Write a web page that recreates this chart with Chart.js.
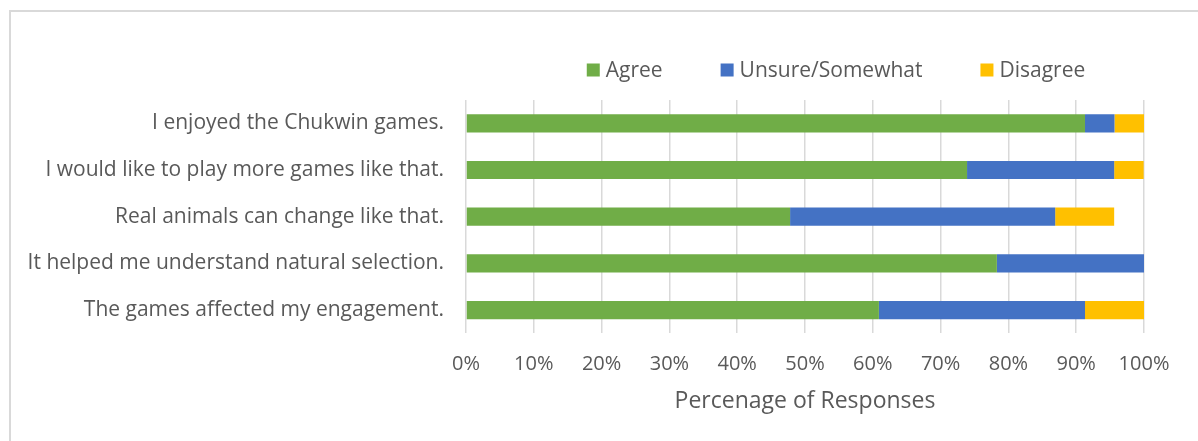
<!DOCTYPE html>
<html>
<head>
<meta charset="utf-8">
<script src="https://cdn.jsdelivr.net/npm/chart.js@4"></script>
<style>
  html, body { margin: 0; padding: 0; background: #fff; }
  #wrap { position: relative; width: 1198px; height: 441px; }
  #frame { position: absolute; left: 9px; top: 10px; right: -5px; bottom: -5px; border: 2px solid #d9d9d9; }
  canvas { position: absolute; left: 0; top: 0; }
</style>
</head>
<body>
<div id="wrap">
  <div id="frame"></div>
  <canvas id="chart" width="1198" height="441"></canvas>
</div>
<script>
// statements on the y axis
const statements = [
  'I enjoyed the Chukwin games.',
  'I would like to play more games like that.',
  'Real animals can change like that.',
  'It helped me understand natural selection.',
  'The games affected my engagement.'
];

// percent of responses per statement
const agree = [91.3, 73.9, 47.8, 78.3, 60.9];
const unsure = [4.35, 21.7, 39.1, 21.7, 30.4];
const disagree = [4.35, 4.35, 8.7, 0, 8.7];

const seriesNames = ['Agree', 'Unsure/Somewhat', 'Disagree'];
const seriesColors = ['#70AD47', '#4472C4', '#FFC000'];

const textColor = '#595959';
const fontFamily = '"Open Sans", sans-serif';

// legend drawn by hand: the built-in one ties item gap to row height
const topLegend = {
  id: 'topLegend',
  afterDraw(chart) {
    const c = chart.ctx;
    const box = 13, gap = 6, itemGap = 58, cy = 70, center = 836;
    c.save();
    c.font = '21px ' + fontFamily;
    c.textBaseline = 'middle';
    const sets = chart.data.datasets;
    const widths = sets.map(d => box + gap + c.measureText(d.label).width);
    const total = widths.reduce((a, b) => a + b, 0) + itemGap * (sets.length - 1);
    let x = center - total / 2;
    sets.forEach((d, i) => {
      c.fillStyle = d.backgroundColor;
      c.fillRect(x, cy - box / 2, box, box);
      c.fillStyle = textColor;
      c.fillText(d.label, x + box + gap, cy + 1);
      x += widths[i] + itemGap;
    });
    c.restore();
  }
};

const ctx = document.getElementById('chart').getContext('2d');
new Chart(ctx, {
  type: 'bar',
  data: {
    labels: statements,
    datasets: [agree, unsure, disagree].map((vals, i) => ({
      label: seriesNames[i],
      data: vals,
      backgroundColor: seriesColors[i],
      borderWidth: 0,
      barPercentage: 0.39,
      categoryPercentage: 1
    }))
  },
  options: {
    indexAxis: 'y',
    responsive: false,
    animation: false,
    layout: { padding: { top: 100, right: 54, bottom: 26, left: 0 } },
    plugins: {
      tooltip: { enabled: false },
      legend: { display: false }
    },
    scales: {
      x: {
        stacked: true,
        min: 0,
        max: 100,
        ticks: {
          stepSize: 10,
          padding: 19,
          color: textColor,
          font: { family: fontFamily, size: 20 },
          callback: v => v + '%'
        },
        grid: { color: '#d9d9d9', lineWidth: 1.5, drawTicks: false },
        border: { display: false },
        title: {
          display: true,
          text: 'Percenage of Responses',
          color: textColor,
          font: { family: fontFamily, size: 23 },
          padding: { top: -8, bottom: 0 }
        }
      },
      y: {
        stacked: true,
        afterFit: s => { s.width = 466; },
        ticks: {
          padding: 22,
          color: textColor,
          font: { family: fontFamily, size: 21 }
        },
        grid: { display: false, drawTicks: false },
        border: { display: false }
      }
    }
  },
  plugins: [topLegend]
});
</script>
</body>
</html>
